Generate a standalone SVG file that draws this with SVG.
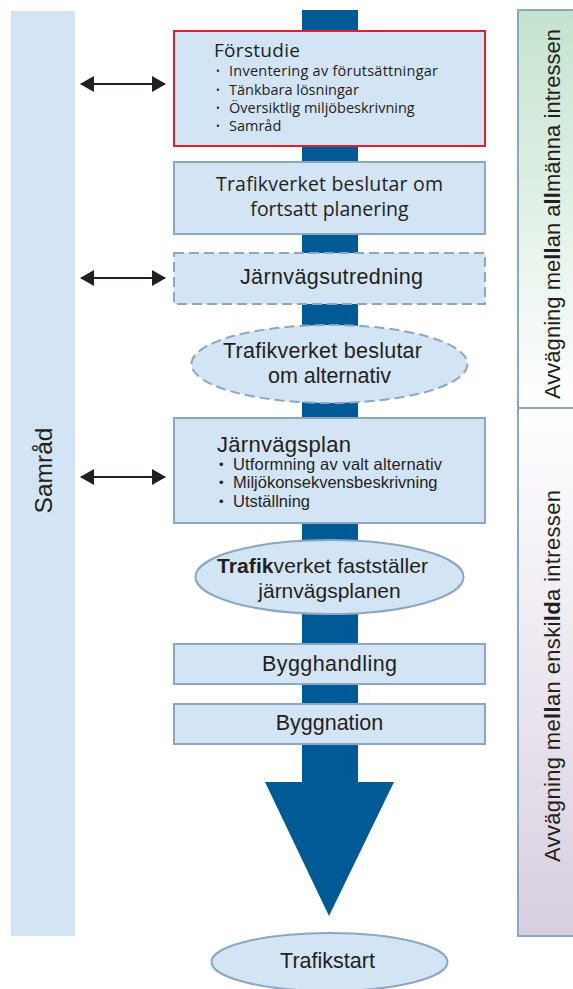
<svg xmlns="http://www.w3.org/2000/svg" width="573" height="989" viewBox="0 0 573 989">
<defs>
<linearGradient id="gTop" x1="0" y1="0" x2="0" y2="1">
<stop offset="0" stop-color="#c4e3cf"/>
<stop offset="1" stop-color="#ffffff"/>
</linearGradient>
<linearGradient id="gBot" x1="0" y1="0" x2="0" y2="1">
<stop offset="0" stop-color="#ffffff"/>
<stop offset="1" stop-color="#d8cfe0"/>
</linearGradient>
<marker id="ah" viewBox="0 0 14 16" refX="13" refY="8" markerWidth="14" markerHeight="16" markerUnits="userSpaceOnUse" orient="auto-start-reverse">
<path d="M0,0 L14,8 L0,16 Z" fill="#231f20"/>
</marker>
<style>
.box{fill:#d3e4f4;stroke:#8ba7c2;stroke-width:2}
.dash{stroke-dasharray:10 5}
.t{font-family:"Liberation Sans",Arial,sans-serif;fill:#231f20}
.m{font-family:"Open Sans","Noto Sans",sans-serif;fill:#231f20}
.conn{stroke:#231f20;stroke-width:2;fill:none}
.b{font-size:10px}
.b2{font-size:13px}
</style>
</defs>
<rect width="573" height="989" fill="#ffffff"/>

<g id="samrad">
<rect x="11" y="11" width="64" height="925" fill="#d3e4f4"/>
<text class="t" font-size="24.5" text-anchor="middle" transform="translate(52,470.5) rotate(-90)">Samråd</text>
</g>

<g id="side-allmanna">
<rect x="518" y="10" width="58" height="398" fill="url(#gTop)" stroke="#8ba7c2" stroke-width="2"/>
<text class="t" font-size="22" text-anchor="middle" textLength="370" transform="translate(560,214) rotate(-90)">Avvägning me<tspan font-weight="bold">ll</tspan>an a<tspan font-weight="bold">ll</tspan>männa intressen</text>
</g>
<g id="side-enskilda">
<rect x="518" y="408" width="58" height="528" fill="url(#gBot)" stroke="#8ba7c2" stroke-width="2"/>
<text class="t" font-size="22" text-anchor="middle" textLength="372" transform="translate(560,676) rotate(-90)">Avvägning me<tspan font-weight="bold">ll</tspan>an enski<tspan font-weight="bold">ld</tspan>a intressen</text>
</g>

<g id="flow-arrow">
<path d="M302,10 L358,10 L358,782 L394,782 L329,916 L265,782 L302,782 Z" fill="#005a96"/>
</g>

<g id="connectors">
<line class="conn" x1="81" y1="84" x2="165" y2="84" marker-start="url(#ah)" marker-end="url(#ah)"/>
<line class="conn" x1="81" y1="278" x2="165" y2="278" marker-start="url(#ah)" marker-end="url(#ah)"/>
<line class="conn" x1="81" y1="477" x2="165" y2="477" marker-start="url(#ah)" marker-end="url(#ah)"/>
</g>

<g id="forstudie">
<rect x="174" y="31" width="311" height="115" fill="#d3e4f4" stroke="#d9232e" stroke-width="2"/>
<text class="m" x="214" y="57" font-size="19" textLength="86">Förstudie</text>
<g class="m" font-size="14.5">
<text class="b" x="216" y="75">•</text><text x="229" y="76" textLength="209">Inventering av förutsättningar</text>
<text class="b" x="216" y="94">•</text><text x="229" y="95">Tänkbara lösningar</text>
<text class="b" x="216" y="112">•</text><text x="229" y="113">Översiktlig miljöbeskrivning</text>
<text class="b" x="216" y="130">•</text><text x="229" y="131">Samråd</text>
</g>
</g>

<g id="beslut-planering">
<rect class="box" x="174" y="162" width="311" height="72"/>
<text class="m" x="329.5" y="191" font-size="19.5" text-anchor="middle" textLength="227">Trafikverket beslutar om</text>
<text class="m" x="329.5" y="216" font-size="19.5" text-anchor="middle">fortsatt planering</text>
</g>

<g id="jarnvagsutredning">
<rect class="box dash" x="174" y="253" width="311" height="51"/>
<text class="t" x="331.5" y="284" font-size="21.5" text-anchor="middle" textLength="183">Järnvägsutredning</text>
</g>

<g id="beslut-alternativ">
<ellipse class="box dash" cx="329.5" cy="364" rx="138" ry="39"/>
<text class="t" x="322.5" y="358" font-size="21.5" text-anchor="middle" textLength="199">Trafikverket beslutar</text>
<text class="t" x="329.5" y="383" font-size="21.5" text-anchor="middle">om alternativ</text>
</g>

<g id="jarnvagsplan">
<rect class="box" x="174" y="418" width="311" height="105"/>
<text class="t" x="217" y="452" font-size="22" textLength="134">Järnvägsplan</text>
<g class="t" font-size="16.5">
<text class="b2" x="219" y="469">•</text><text x="233" y="470" textLength="209">Utformning av valt alternativ</text>
<text class="b2" x="219" y="487">•</text><text x="233" y="488">Miljökonsekvensbeskrivning</text>
<text class="b2" x="219" y="506">•</text><text x="233" y="507">Utställning</text>
</g>
</g>

<g id="faststaller">
<ellipse class="box" cx="329.5" cy="577" rx="134" ry="37"/>
<text class="t" x="322.5" y="573" font-size="21" text-anchor="middle" textLength="211"><tspan font-weight="bold">Trafik</tspan>verket fastställer</text>
<text class="t" x="329.5" y="598" font-size="21" text-anchor="middle">järnvägsplanen</text>
</g>

<g id="bygghandling">
<rect class="box" x="174" y="644" width="311" height="40"/>
<text class="t" x="329.5" y="671" font-size="21.5" text-anchor="middle" textLength="135">Bygghandling</text>
</g>

<g id="byggnation">
<rect class="box" x="174" y="704" width="311" height="40"/>
<text class="t" x="329.5" y="730" font-size="21.5" text-anchor="middle">Byggnation</text>
</g>

<g id="trafikstart">
<ellipse class="box" cx="329.5" cy="962" rx="118" ry="29"/>
<text class="t" x="327.5" y="968" font-size="21.5" text-anchor="middle">Trafikstart</text>
</g>
</svg>
